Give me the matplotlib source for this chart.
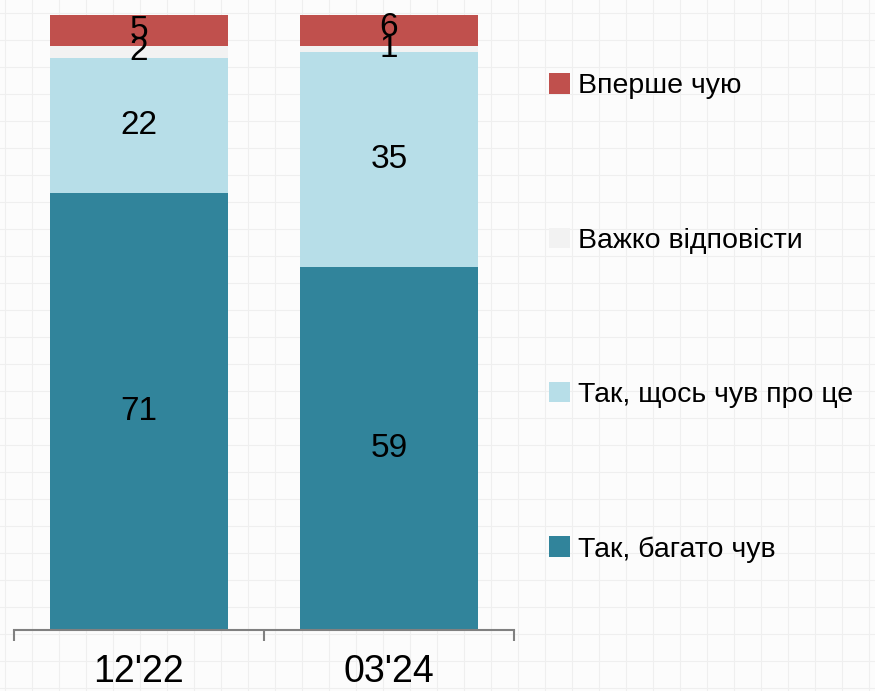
import matplotlib
matplotlib.use("Agg")
import matplotlib.pyplot as plt
from matplotlib.patches import Patch
import numpy as np

# data
waves = ["12'22", "03'24"]
series = ["Так, багато чув", "Так, щось чув про це", "Важко відповісти", "Вперше чую"]
values = {
    "Так, багато чув": [71, 59],
    "Так, щось чув про це": [22, 35],
    "Важко відповісти": [2, 1],
    "Вперше чую": [5, 6],
}
colors = ["#31849B", "#B7DEE8", "#F2F2F2", "#C0504D"]

plt.rcParams['font.family'] = ['Liberation Sans', 'DejaVu Sans']

fig = plt.figure(figsize=(8.75, 6.91), dpi=100)
fig.patch.set_facecolor("#fcfcfc")

# faint paper-like grid in background
bg = fig.add_axes([0, 0, 1, 1], zorder=-1)
bg.set_xlim(0, 875)
bg.set_ylim(0, 691)
for gx in np.arange(5, 875, 27):
    bg.axvline(gx, color="#efefef", lw=0.8)
for gy in np.arange(3, 691, 27):
    bg.axhline(gy, color="#efefef", lw=0.8)
bg.axis("off")

ax = fig.add_axes([14 / 875, 61 / 691, 500 / 875, 615 / 691])
ax.patch.set_alpha(0)
x = np.arange(len(waves))
bottom = np.zeros(len(waves))
for name, col in zip(series, colors):
    v = np.array(values[name], dtype=float)
    ax.bar(x, v, bottom=bottom, width=0.71, color=col, label=name)
    for xi, b, vi in zip(x, bottom, v):
        ax.text(xi, b + vi / 2, str(int(vi)), ha="center", va="center", fontsize=24, color="black")
    bottom += v

ax.set_xlim(-0.5, 1.5)
ax.set_ylim(0, 100)
for s in ["top", "right", "left"]:
    ax.spines[s].set_visible(False)
ax.spines["bottom"].set_color("#808080")
ax.spines["bottom"].set_linewidth(1.5)
ax.set_yticks([])
ax.set_xticks(x)
ax.set_xticklabels(waves, fontsize=27)
ax.tick_params(axis="x", which="major", length=0, pad=17)
ax.set_xticks([-0.5, 0.5, 1.5], minor=True)
ax.tick_params(axis="x", which="minor", length=8, width=1.5, color="#808080", direction="out")

handles = [Patch(facecolor=c, edgecolor="none") for c in colors][::-1]
fig.legend(handles, series[::-1], loc="upper left", bbox_to_anchor=(538 / 875, 1 - 62 / 691),
           frameon=False, fontsize=20.5, labelspacing=4.5, handlelength=0.72, handleheight=0.72,
           handletextpad=0.3, borderaxespad=0)

fig.savefig("out.png", dpi=100, facecolor=fig.get_facecolor())
